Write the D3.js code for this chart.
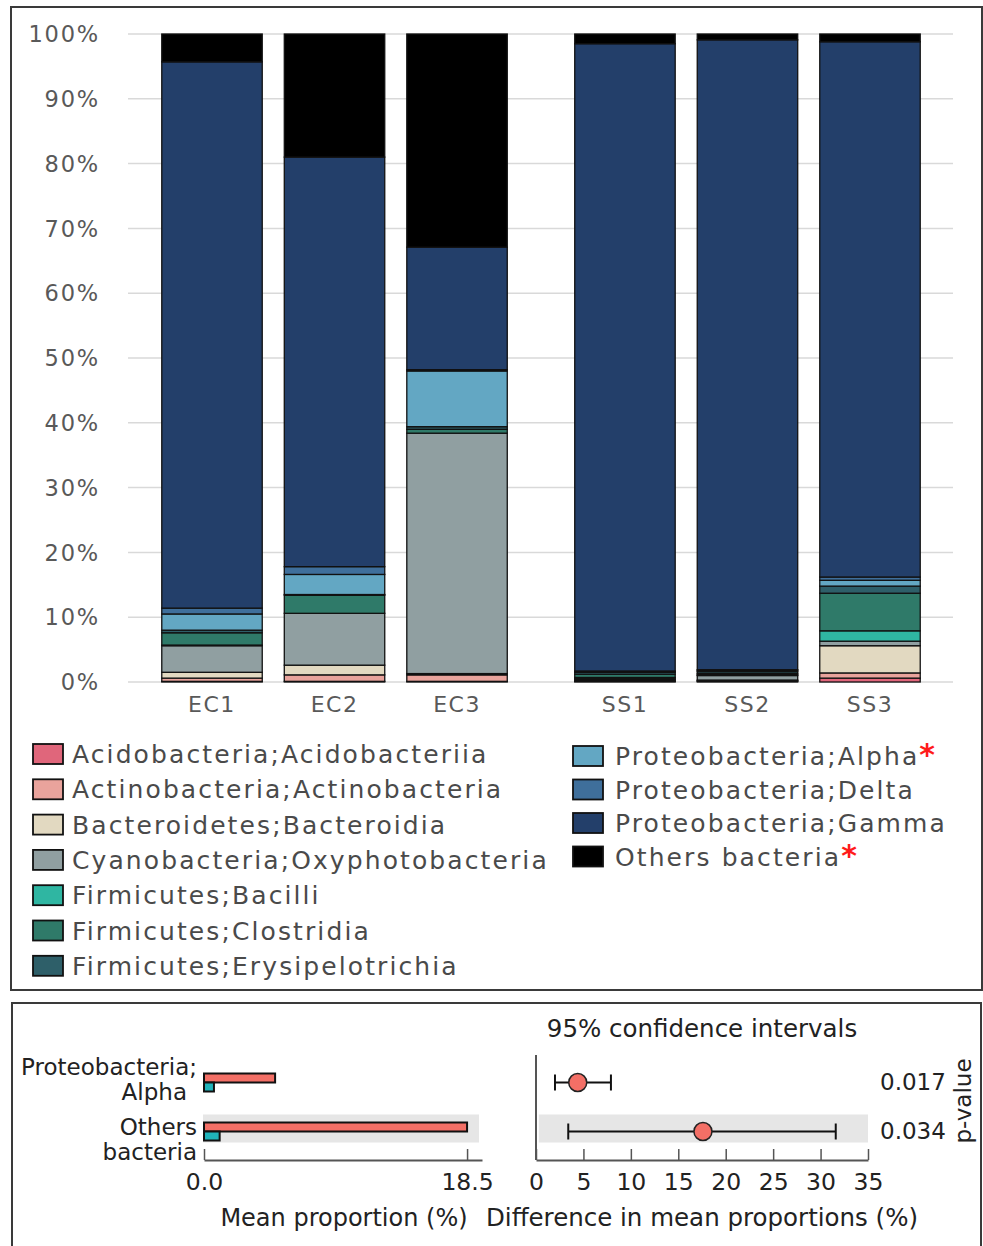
<!DOCTYPE html>
<html>
<head>
<meta charset="utf-8">
<script src="https://cdn.jsdelivr.net/npm/d3@7"></script>
<style>
  html, body { margin: 0; padding: 0; background: #ffffff; }
  svg { display: block; }
</style>
</head>
<body>
<svg id="chart" width="983" height="1246"></svg>
<script>
// ---- Taxa (stack order, bottom to top) ----
const taxa = [
  "Acidobacteria;Acidobacteriia",
  "Actinobacteria;Actinobacteria",
  "Bacteroidetes;Bacteroidia",
  "Cyanobacteria;Oxyphotobacteria",
  "Firmicutes;Bacilli",
  "Firmicutes;Clostridia",
  "Firmicutes;Erysipelotrichia",
  "Proteobacteria;Alpha",
  "Proteobacteria;Delta",
  "Proteobacteria;Gamma",
  "Others bacteria"
];
const taxonColors = [
  "#e0667b", "#e9a39c", "#e2d9c1", "#909fa1", "#2fb6a2", "#2f7a69",
  "#2e5f69", "#63a7c3", "#3f6f9b", "#233f6a", "#000000"
];
const significantTaxa = ["Proteobacteria;Alpha", "Others bacteria"];

// ---- Samples and relative abundance (%) per taxon ----
const samples = ["EC1", "EC2", "EC3", "SS1", "SS2", "SS3"];
const sampleGroups = ["EC", "EC", "EC", "SS", "SS", "SS"];
const EC1 = [0.1, 0.5, 0.9, 4.1, 0.1, 1.9, 0.4, 2.5, 0.9, 84.3, 4.3];
const EC2 = [0.1, 1.0, 1.5, 8.0, 0.0, 2.8, 0.1, 3.1, 1.2, 63.2, 19.0];
const EC3 = [0.1, 1.0, 0.2, 37.1, 0.0, 0.6, 0.4, 8.6, 0.2, 18.9, 32.9];
const SS1 = [0.1, 0.1, 0.2, 0.2, 0.1, 0.5, 0.3, 0.1, 0.1, 96.8, 1.5];
const SS2 = [0.1, 0.1, 0.1, 0.7, 0.1, 0.2, 0.3, 0.2, 0.1, 97.2, 0.9];
const SS3 = [0.6, 0.8, 4.2, 0.7, 1.6, 5.8, 1.1, 0.9, 0.5, 82.6, 1.2];
const sampleValues = [EC1, EC2, EC3, SS1, SS2, SS3];
const yTicks = [0, 10, 20, 30, 40, 50, 60, 70, 80, 90, 100];

// ---- Extended error bar data (EC vs SS) ----
const featureLabels = [["Proteobacteria;", "Alpha"], ["Others", "bacteria"]];
const meanEC = [5.0, 18.5];
const meanSS = [0.7, 1.1];
const diffMean = [4.4, 17.6];
const ciLow = [2.0, 3.4];
const ciHigh = [7.9, 31.6];
const pValues = ["0.017", "0.034"];
const meanTicks = [0, 18.5];
const diffTicks = [0, 5, 10, 15, 20, 25, 30, 35];

const svg = d3.select("#chart");
const topFont = "'DejaVu Sans', Verdana, sans-serif";
const mplFont = "'DejaVu Sans', sans-serif";
const mplSize = 24;

// ================= Stacked bar chart =================
svg.append("rect")
  .attr("x", 11).attr("y", 7).attr("width", 971).attr("height", 983)
  .attr("fill", "none").attr("stroke", "#3a3a3a").attr("stroke-width", 2);

const y = d3.scaleLinear().domain([0, 100]).range([682, 34]);
const xGroup = d3.scaleBand().domain(["EC", "SS"])
  .range([150.75, 931.25]).paddingInner(0.11).paddingOuter(0);
const xInner = {};
["EC", "SS"].forEach(g => {
  xInner[g] = d3.scaleBand()
    .domain(samples.filter((s, i) => sampleGroups[i] === g))
    .range([0, xGroup.bandwidth()])
    .paddingInner(0.18).paddingOuter(0.09);
});
const sampleX = (s, i) => xGroup(sampleGroups[i]) + xInner[sampleGroups[i]](s);
const barWidth = xInner.EC.bandwidth();

// gridlines
svg.append("g").selectAll("line").data(yTicks).join("line")
  .attr("x1", 128).attr("x2", 953)
  .attr("y1", d => y(d)).attr("y2", d => y(d))
  .attr("stroke", "#d9d9d9").attr("stroke-width", 1.5);

// y tick labels
svg.append("g").selectAll("text").data(yTicks).join("text")
  .attr("x", 100).attr("y", d => y(d)).attr("dy", "0.36em")
  .attr("text-anchor", "end")
  .attr("font-family", topFont).attr("font-size", 22.5)
  .attr("letter-spacing", 1.8)
  .attr("fill", "#595959")
  .text(d => d + "%");

// stacked segments
const stackRows = samples.map((s, i) => {
  const row = { sample: s, index: i };
  taxa.forEach((t, k) => { row[t] = sampleValues[i][k]; });
  return row;
});
const series = d3.stack().keys(taxa)(stackRows);
const barG = svg.append("g");
series.forEach((ser, k) => {
  barG.append("g").selectAll("rect").data(ser).join("rect")
    .attr("x", d => sampleX(d.data.sample, d.data.index))
    .attr("width", barWidth)
    .attr("y", d => y(d[1]))
    .attr("height", d => Math.max(0, y(d[0]) - y(d[1])))
    .attr("fill", taxonColors[k])
    .attr("stroke", "#111").attr("stroke-width", 1.3);
});

// sample labels
svg.append("g").selectAll("text").data(samples).join("text")
  .attr("x", (s, i) => sampleX(s, i) + barWidth / 2)
  .attr("y", 712)
  .attr("text-anchor", "middle")
  .attr("font-family", topFont).attr("font-size", 22)
  .attr("letter-spacing", 1.5)
  .attr("fill", "#595959")
  .text(d => d);

// legend
const legendCols = [
  { items: taxa.slice(0, 7), offset: 0, swX: 33, txX: 72, y0: 763, step: 35.3 },
  { items: taxa.slice(7), offset: 7, swX: 573, txX: 615, y0: 765, step: 33.5 }
];
legendCols.forEach(col => {
  const g = svg.append("g");
  col.items.forEach((t, j) => {
    const by = col.y0 + j * col.step;
    g.append("rect")
      .attr("x", col.swX).attr("y", by - 19).attr("width", 30).attr("height", 20)
      .attr("fill", taxonColors[col.offset + j])
      .attr("stroke", "#111").attr("stroke-width", 1.8);
    const txt = g.append("text")
      .attr("x", col.txX).attr("y", by)
      .attr("font-family", topFont).attr("font-size", 25)
      .attr("letter-spacing", 2.1)
      .attr("fill", "#4a4a4a");
    txt.append("tspan").text(t);
    if (significantTaxa.includes(t)) {
      txt.append("tspan").attr("fill", "#ff1a1a").attr("font-size", 30)
        .attr("font-weight", "bold").attr("letter-spacing", 0).text("*");
    }
  });
});

// ================= Extended error bar panel =================
svg.append("rect")
  .attr("x", 12).attr("y", 1003).attr("width", 969).attr("height", 270)
  .attr("fill", "none").attr("stroke", "#3a3a3a").attr("stroke-width", 2);

const rowY = d3.scaleBand().domain(d3.range(featureLabels.length))
  .range([1058, 1156]).paddingInner(0).paddingOuter(0);
const rowCenter = i => rowY(i) + rowY.bandwidth() / 2;
// baseline of the first line of each two-line feature label
const labelY = d3.scaleLinear().domain([0, 1]).range([1075, 1135]);

const xMean = d3.scaleLinear().domain([0, 19.55]).range([204, 482]);
const xDiff = d3.scaleLinear().domain([0, 35]).range([536, 868]);

// shaded alternate row
featureLabels.forEach((f, i) => {
  if (i % 2 === 1) {
    svg.append("rect")
      .attr("x", xMean(0) - 1).attr("width", 479 - xMean(0) + 1)
      .attr("y", rowCenter(i) - 17).attr("height", 28)
      .attr("fill", "#e6e6e6");
    svg.append("rect")
      .attr("x", xDiff(0.3)).attr("width", xDiff(35) - xDiff(0.3))
      .attr("y", rowCenter(i) - 17).attr("height", 28)
      .attr("fill", "#e6e6e6");
  }
});

// mean proportion bars
featureLabels.forEach((f, i) => {
  const c = rowCenter(i);
  svg.append("rect")
    .attr("x", xMean(0)).attr("width", xMean(meanEC[i]) - xMean(0))
    .attr("y", c - 9).attr("height", 9)
    .attr("fill", "#f36f66").attr("stroke", "#111").attr("stroke-width", 2);
  svg.append("rect")
    .attr("x", xMean(0)).attr("width", xMean(meanSS[i]) - xMean(0))
    .attr("y", c).attr("height", 9)
    .attr("fill", "#20b3ba").attr("stroke", "#111").attr("stroke-width", 2);
});

// two-line feature labels, right aligned
featureLabels.forEach((f, i) => {
  const t = svg.append("text")
    .attr("text-anchor", "end")
    .attr("font-family", mplFont).attr("font-size", 23).attr("fill", "#222");
  t.append("tspan").attr("x", 197).attr("y", labelY(i)).text(f[0]);
  t.append("tspan").attr("x", i === 0 ? 187 : 197).attr("y", labelY(i) + 25).text(f[1]);
});

function styleAxis(g) {
  g.select(".domain").attr("stroke", "#555").attr("stroke-width", 2);
  g.selectAll(".tick line").attr("stroke", "#555").attr("stroke-width", 1.5);
  g.selectAll(".tick text")
    .attr("y", 30).attr("dy", 0)
    .attr("font-family", mplFont).attr("font-size", 23.5).attr("fill", "#222");
}

const meanAxis = svg.append("g").attr("transform", "translate(0,1160)")
  .call(d3.axisBottom(xMean).tickValues(meanTicks).tickFormat(d3.format(".1f"))
    .tickSizeInner(-11).tickSizeOuter(0));
styleAxis(meanAxis);

const diffAxis = svg.append("g").attr("transform", "translate(0,1160)")
  .call(d3.axisBottom(xDiff).tickValues(diffTicks).tickFormat(d3.format("d"))
    .tickSizeInner(-11).tickSizeOuter(0));
styleAxis(diffAxis);

// left spine of difference plot
svg.append("line")
  .attr("x1", xDiff(0)).attr("x2", xDiff(0))
  .attr("y1", 1055).attr("y2", 1160)
  .attr("stroke", "#555").attr("stroke-width", 2);

// confidence intervals
featureLabels.forEach((f, i) => {
  const c = rowCenter(i);
  const g = svg.append("g");
  g.append("line")
    .attr("x1", xDiff(ciLow[i])).attr("x2", xDiff(ciHigh[i]))
    .attr("y1", c).attr("y2", c)
    .attr("stroke", "#111").attr("stroke-width", 2);
  [ciLow[i], ciHigh[i]].forEach(v => {
    g.append("line")
      .attr("x1", xDiff(v)).attr("x2", xDiff(v))
      .attr("y1", c - 8).attr("y2", c + 8)
      .attr("stroke", "#111").attr("stroke-width", 2);
  });
  g.append("circle")
    .attr("cx", xDiff(diffMean[i])).attr("cy", c).attr("r", 9)
    .attr("fill", "#f36f66").attr("stroke", "#222").attr("stroke-width", 1.5);
  svg.append("text")
    .attr("x", 880).attr("y", c + 7)
    .attr("font-family", mplFont).attr("font-size", 23).attr("fill", "#222")
    .text(pValues[i]);
});

// titles and axis labels
svg.append("text")
  .attr("x", 702).attr("y", 1037)
  .attr("text-anchor", "middle")
  .attr("font-family", mplFont).attr("font-size", 24.5).attr("fill", "#222")
  .text("95% confidence intervals");
svg.append("text")
  .attr("x", 344).attr("y", 1226)
  .attr("text-anchor", "middle")
  .attr("font-family", mplFont).attr("font-size", mplSize).attr("fill", "#222")
  .text("Mean proportion (%)");
svg.append("text")
  .attr("x", 702).attr("y", 1226)
  .attr("text-anchor", "middle")
  .attr("font-family", mplFont).attr("font-size", 24.5).attr("fill", "#222")
  .text("Difference in mean proportions (%)");
svg.append("text")
  .attr("transform", "translate(971,1101) rotate(-90)")
  .attr("text-anchor", "middle")
  .attr("font-family", mplFont).attr("font-size", 23).attr("fill", "#222")
  .text("p-value");
</script>
</body>
</html>
